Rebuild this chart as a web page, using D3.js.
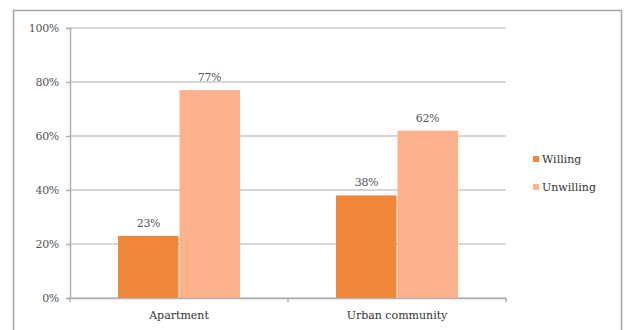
<!DOCTYPE html>
<html><head><meta charset="utf-8">
<script src="https://cdn.jsdelivr.net/npm/d3@7"></script>
<style>body{margin:0;background:#fff;}svg{display:block;}</style>
</head><body>
<svg id="c" width="627" height="330"></svg>
<script>
const categories = ["Apartment", "Urban community"];
const seriesNames = ["Willing", "Unwilling"];
const willing = [23, 38];
const unwilling = [77, 62];
const yTicks = [0, 20, 40, 60, 80, 100];
const colors = ["#F1873A", "#FCB38D"];

const svg = d3.select("#c");
const font = "'DejaVu Serif', 'Liberation Serif', serif";

svg.append("rect").attr("x", 13.5).attr("y", 10.5).attr("width", 608).attr("height", 330)
  .attr("fill", "#fff").attr("stroke", "#a6a6a6").attr("stroke-width", 1.5);

const x0 = d3.scaleBand().domain(categories).range([70, 506]).paddingInner(0).paddingOuter(0);
const y = d3.scaleLinear().domain([0, 100]).range([298, 28]);
const x1 = d3.scaleBand().domain(seriesNames).range([0, 122]);

// gridlines
svg.append("g").selectAll("line").data(yTicks).join("line")
  .attr("x1", 70).attr("x2", 506).attr("y1", d => y(d)).attr("y2", d => y(d))
  .attr("stroke", "#c9c9c9").attr("stroke-width", 1.5);

// y axis
const yAxis = d3.axisLeft(y).tickValues(yTicks).tickFormat(d => d + "%").tickSize(4).tickPadding(7);
const ya = svg.append("g").attr("transform", "translate(70,0)").call(yAxis);
ya.select(".domain").attr("stroke", "#b0b0b0").attr("stroke-width", 1.5);
ya.selectAll(".tick line").attr("stroke", "#b0b0b0").attr("stroke-width", 1.5);
ya.selectAll("text").attr("font-family", font).attr("font-size", 11).attr("fill", "#555").attr("letter-spacing", -0.3);

// bars
const data = categories.map((c, i) => ({cat: c, vals: [willing[i], unwilling[i]]}));
const groups = svg.append("g").selectAll("g").data(data).join("g")
  .attr("transform", d => `translate(${x0(d.cat) + (x0.bandwidth() - 122) / 2},0)`);
groups.selectAll("rect").data(d => d.vals.map((v, j) => ({s: seriesNames[j], v, j}))).join("rect")
  .attr("x", d => x1(d.s) + (d.j === 1 ? 0.5 : 0)).attr("width", x1.bandwidth() - 0.5)
  .attr("y", d => y(d.v)).attr("height", d => y(0) - y(d.v))
  .attr("fill", d => colors[d.j]);
groups.selectAll("text").data(d => d.vals.map((v, j) => ({s: seriesNames[j], v, j}))).join("text")
  .attr("x", d => x1(d.s) + x1.bandwidth() / 2).attr("y", d => y(d.v) - 9)
  .attr("text-anchor", "middle").attr("font-family", font).attr("font-size", 11).attr("fill", "#555")
  .attr("letter-spacing", -0.3)
  .text(d => d.v + "%");

// x axis
const xAxis = d3.axisBottom(x0).tickSize(0).tickPadding(13);
const xa = svg.append("g").attr("transform", "translate(0,298)").call(xAxis);
xa.select(".domain").attr("stroke", "#b0b0b0").attr("stroke-width", 1.5);
xa.selectAll("text").attr("font-family", font).attr("font-size", 11).attr("fill", "#333");
svg.append("g").selectAll("line").data([70, 288, 506]).join("line")
  .attr("x1", d => d).attr("x2", d => d).attr("y1", 298).attr("y2", 302)
  .attr("stroke", "#b0b0b0").attr("stroke-width", 1.5);

// legend
const lg = svg.append("g").selectAll("g").data(seriesNames).join("g")
  .attr("transform", (d, i) => `translate(533,${159 + i * 28})`);
lg.append("rect").attr("x", 0).attr("y", -3).attr("width", 6).attr("height", 6).attr("fill", (d, i) => colors[i]);
lg.append("text").attr("x", 9).attr("y", 4).attr("font-family", font).attr("font-size", 11).attr("fill", "#333").text(d => d);
</script>
</body></html>
